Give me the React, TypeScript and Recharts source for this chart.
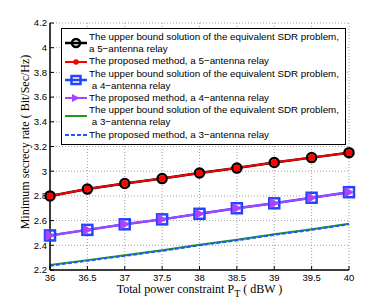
import { CartesianGrid, Line, LineChart, XAxis, YAxis } from "recharts";

// total power constraint P_T (dBW)
const power = [36, 36.5, 37, 37.5, 38, 38.5, 39, 39.5, 40];
const sdr5 = [2.8, 2.855, 2.9, 2.94, 2.985, 3.025, 3.07, 3.11, 3.15];
const prop5 = [2.8, 2.855, 2.9, 2.94, 2.985, 3.025, 3.07, 3.11, 3.15];
const sdr4 = [2.48, 2.525, 2.57, 2.61, 2.655, 2.7, 2.74, 2.785, 2.83];
const prop4 = [2.48, 2.525, 2.57, 2.61, 2.655, 2.7, 2.74, 2.785, 2.83];
const sdr3 = [2.24, 2.28, 2.32, 2.36, 2.405, 2.445, 2.49, 2.53, 2.575];
const prop3 = [2.235, 2.275, 2.315, 2.355, 2.4, 2.44, 2.485, 2.525, 2.57];

const xTicks = [36, 36.5, 37, 37.5, 38, 38.5, 39, 39.5, 40];
const yTicks = [2.2, 2.4, 2.6, 2.8, 3, 3.2, 3.4, 3.6, 3.8, 4, 4.2];

const legendItems = [
  { key: "sdr5", lines: ["The upper bound solution of the equivalent SDR problem,", "a 5\u2212antenna relay"] },
  { key: "prop5", lines: ["The proposed method, a 5\u2212antenna relay"] },
  { key: "sdr4", lines: ["The upper bound solution of the equivalent SDR problem,", " a 4\u2212antenna relay"] },
  { key: "prop4", lines: ["The proposed method, a 4\u2212antenna relay"] },
  { key: "sdr3", lines: ["The upper bound solution of the equivalent SDR problem,", " a 3\u2212antenna relay"] },
  { key: "prop3", lines: ["The proposed method, a 3\u2212antenna relay"] },
];

const BLUE = "#2244ff";
const MAGENTA = "#b040ff";
const GREEN = "#1f9a1f";
const DASHBLUE = "#2255ff";

const rows = power.map((p, i) => ({
  p,
  sdr5: sdr5[i],
  prop5: prop5[i],
  sdr4: sdr4[i],
  prop4: prop4[i],
  sdr3: sdr3[i],
  prop3: prop3[i],
}));

const sans = "'Liberation Sans', Arial, sans-serif";
const serif = "'Liberation Serif', 'Times New Roman', serif";

function OpenCircle(p: any) {
  return <circle key={p.index} cx={p.cx} cy={p.cy} r={4.5} fill="none" stroke="#000" strokeWidth={2.5} />;
}
function RedDot(p: any) {
  return <circle key={p.index} cx={p.cx} cy={p.cy} r={3} fill="#ff0000" stroke="#ff0000" />;
}
function OpenSquare(p: any) {
  return (
    <rect key={p.index} x={p.cx - 5} y={p.cy - 5} width={10} height={10} fill="none" stroke={BLUE} strokeWidth={2.5} />
  );
}
function RightTri(p: any) {
  const { cx, cy } = p;
  return (
    <polygon
      key={p.index}
      points={`${cx - 4},${cy - 4.5} ${cx + 4.5},${cy} ${cx - 4},${cy + 4.5}`}
      fill={MAGENTA}
      stroke={MAGENTA}
    />
  );
}

function Symbol({ k }: { k: string }) {
  const line = (color: string, w = 2, dash?: string) => (
    <line x1={1} x2={23} y1={6} y2={6} stroke={color} strokeWidth={w} strokeDasharray={dash} />
  );
  return (
    <svg width={24} height={12} style={{ display: "block" }}>
      {k === "sdr5" && (
        <>
          {line("#000", 2.5)}
          <circle cx={12} cy={6} r={4} fill="none" stroke="#000" strokeWidth={2.5} />
        </>
      )}
      {k === "prop5" && (
        <>
          {line("#ff0000")}
          <circle cx={12} cy={6} r={2.8} fill="#ff0000" />
        </>
      )}
      {k === "sdr4" && (
        <>
          {line(BLUE, 2.5)}
          <rect x={7.5} y={2} width={9} height={8} fill="none" stroke={BLUE} strokeWidth={2.5} />
        </>
      )}
      {k === "prop4" && (
        <>
          {line(MAGENTA)}
          <polygon points="8,2 16,6 8,10" fill={MAGENTA} />
        </>
      )}
      {k === "sdr3" && line(GREEN)}
      {k === "prop3" && line(DASHBLUE, 2, "4 2")}
    </svg>
  );
}

function LegendBox() {
  return (
    <div
      style={{
        position: "absolute",
        left: 61,
        top: 28,
        width: 281,
        border: "1px solid #000",
        background: "#fff",
        padding: "2px 0 3px 2px",
        fontFamily: sans,
        fontSize: 9.8,
        lineHeight: "12.2px",
        color: "#000",
      }}
    >
      {legendItems.map((it) => (
        <div key={it.key} style={{ display: "flex", alignItems: "center" }}>
          <div style={{ width: 25 }}>
            <Symbol k={it.key} />
          </div>
          <div style={{ whiteSpace: "pre" }}>
            {it.lines.map((l, i) => (
              <div key={i}>{l}</div>
            ))}
          </div>
        </div>
      ))}
    </div>
  );
}

const noTick = () => <g />;

export default function App() {
  return (
    <div style={{ position: "absolute", left: 0, top: 0, width: 386, height: 304, background: "#fff" }}>
      <LineChart width={386} height={304} data={rows} margin={{ top: 23, right: 37, bottom: 0, left: 0 }}>
        <CartesianGrid stroke="#8a8a8a" strokeDasharray="1 2" strokeWidth={0.8} verticalValues={xTicks} horizontalValues={yTicks} />
        <XAxis
          dataKey="p"
          type="number"
          domain={[36, 40]}
          ticks={xTicks}
          height={34}
          tickSize={-4}
          tickMargin={8}
          axisLine={{ stroke: "#000", strokeWidth: 1.5 }}
          tickLine={{ stroke: "#000", strokeWidth: 1 }}
          tick={{ fill: "#000", fontSize: 9.5, fontFamily: sans }}
          label={{
            content: (props: any) => {
              const vb = props.viewBox;
              return (
                <text
                  x={vb.x + vb.width / 2}
                  y={vb.y + 23}
                  textAnchor="middle"
                  fontFamily={serif}
                  fontSize={12}
                  fill="#000"
                >
                  Total power constraint P
                  <tspan fontSize={10} dy={4}>T</tspan>
                  <tspan dy={-4}> ( dBW )</tspan>
                </text>
              );
            },
          }}
        />
        <XAxis
          xAxisId="top"
          dataKey="p"
          type="number"
          orientation="top"
          domain={[36, 40]}
          ticks={xTicks}
          height={0}
          tickSize={-4}
          axisLine={{ stroke: "#000", strokeWidth: 1.5 }}
          tickLine={{ stroke: "#000", strokeWidth: 1 }}
          tick={noTick}
        />
        <YAxis
          type="number"
          domain={[2.2, 4.2]}
          ticks={yTicks}
          width={50}
          tickSize={-4}
          tickMargin={7}
          allowDataOverflow
          axisLine={{ stroke: "#000", strokeWidth: 1.5 }}
          tickLine={{ stroke: "#000", strokeWidth: 1 }}
          tick={{ fill: "#000", fontSize: 9.5, fontFamily: sans }}
          tickFormatter={(v: number) => String(Number(v.toFixed(1)))}
          label={{
            content: () => (
              <text
                x={0}
                y={0}
                transform="translate(29,142) rotate(-90)"
                textAnchor="middle"
                fontFamily={serif}
                fontSize={12}
                fill="#000"
              >
                Minimum secrecy rate ( Bit/Sec/Hz)
              </text>
            ),
          }}
        />
        <YAxis
          yAxisId="right"
          orientation="right"
          type="number"
          domain={[2.2, 4.2]}
          ticks={yTicks}
          width={0}
          tickSize={-4}
          allowDataOverflow
          axisLine={{ stroke: "#000", strokeWidth: 1.5 }}
          tickLine={{ stroke: "#000", strokeWidth: 1 }}
          tick={noTick}
        />
        <Line dataKey="sdr5" stroke="#000" strokeWidth={2.5} dot={OpenCircle} isAnimationActive={false} />
        <Line dataKey="prop5" stroke="#ff0000" strokeWidth={2} dot={RedDot} isAnimationActive={false} />
        <Line dataKey="sdr4" stroke={BLUE} strokeWidth={2.5} dot={OpenSquare} isAnimationActive={false} />
        <Line dataKey="prop4" stroke={MAGENTA} strokeWidth={2} dot={RightTri} isAnimationActive={false} />
        <Line dataKey="sdr3" stroke={GREEN} strokeWidth={2} dot={false} isAnimationActive={false} />
        <Line dataKey="prop3" stroke={DASHBLUE} strokeWidth={2} strokeDasharray="4 2" dot={false} isAnimationActive={false} />
      </LineChart>
      <LegendBox />
    </div>
  );
}
